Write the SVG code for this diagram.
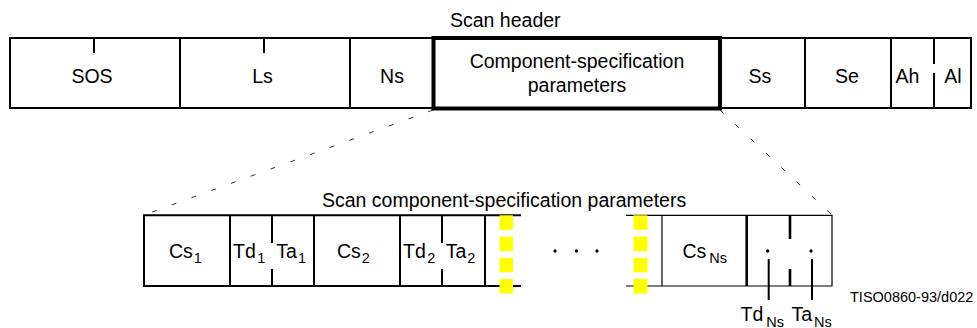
<svg xmlns="http://www.w3.org/2000/svg" width="977" height="328" viewBox="0 0 977 328">
<style>
  text { font-family: "Liberation Sans", Arial, sans-serif; fill: #000; }
  .lbl { font-size: 19.5px; }
  .mid { text-anchor: middle; }
  .sub { font-size: 14.5px; }
  .cell { fill: #fff; stroke: #000; stroke-width: 2; }
  .ln { stroke: #000; stroke-width: 2; fill: none; }
  .thin { stroke: #000; stroke-width: 1.2; fill: none; }
  .thk { stroke: #000; stroke-width: 2.6; fill: none; }
  .zoom { stroke: #333; stroke-width: 1; fill: none; stroke-dasharray: 5 16; }
  .gap { fill: #ffff00; }
</style>
<rect width="977" height="328" fill="#fff"/>

<text id="title-scan-header" class="lbl" x="450" y="27">Scan header</text>

<!-- top row -->
<g id="sos"><rect class="cell" x="10" y="38" width="170" height="70"/><line class="ln" x1="94" y1="38" x2="94" y2="53"/><text class="lbl mid" x="92" y="83">SOS</text></g>
<g id="ls"><rect class="cell" x="180" y="38" width="170" height="70"/><line class="ln" x1="264" y1="38" x2="264" y2="53"/><text class="lbl mid" x="262.5" y="83">Ls</text></g>
<g id="ns"><rect class="cell" x="350" y="38" width="83.5" height="70"/><text class="lbl mid" x="392" y="83">Ns</text></g>
<g id="ss"><rect class="cell" x="720" y="38" width="85" height="70"/><text class="lbl mid" x="760" y="83">Ss</text></g>
<g id="se"><rect class="cell" x="805" y="38" width="86" height="70"/><text class="lbl mid" x="847" y="83">Se</text></g>
<g id="ah"><path class="ln" d="M891,38 H934 M891,108 H934"/><path class="ln" d="M934,38 V64 M934,73 V108"/><text class="lbl mid" x="907.5" y="83">Ah</text></g>
<g id="al"><path class="ln" d="M934,38 H971 V108 H934"/><text class="lbl mid" x="953" y="83">Al</text></g>
<g id="csp"><rect x="433.5" y="38" width="286.5" height="70.5" fill="#fff" stroke="#000" stroke-width="4"/><text class="lbl mid" x="577" y="68">Component-specification</text><text class="lbl mid" x="577" y="91.5">parameters</text></g>

<!-- connectors -->
<g id="connectors">
  <line class="zoom" x1="433" y1="110" x2="144" y2="215"/>
  <line class="zoom" x1="720" y1="110" x2="832" y2="215"/>
  <line class="ln" x1="768.7" y1="259" x2="768.7" y2="300"/>
  <line class="ln" x1="812" y1="259" x2="812" y2="300"/>
</g>

<text id="title-scan-csp" class="lbl" x="322" y="206.5">Scan component-specification parameters</text>

<!-- bottom row -->
<g id="frame-left"><path class="ln" d="M521,215.3 H144 V286 H521"/></g>
<g id="cs1"><path class="ln" d="M230,215.3 V286"/><text class="lbl" x="169" y="258.3">Cs<tspan class="sub" dx="1" dy="5">1</tspan></text></g>
<g id="td1"><path class="ln" d="M272,215.3 V243 M272,269 V286"/><text class="lbl" x="233" y="258.3">Td<tspan class="sub" dx="1.5" dy="5">1</tspan></text></g>
<g id="ta1"><path class="ln" d="M314,215.3 V286"/><text class="lbl" x="276.3" y="258.3">Ta<tspan class="sub" dx="1" dy="5">1</tspan></text></g>
<g id="cs2"><path class="ln" d="M400,215.3 V286"/><text class="lbl" x="337" y="258.3">Cs<tspan class="sub" dx="1" dy="5">2</tspan></text></g>
<g id="td2"><path class="ln" d="M442,215.3 V243 M442,269 V286"/><text class="lbl" x="403" y="258.3">Td<tspan class="sub" dx="1.5" dy="5">2</tspan></text></g>
<g id="ta2"><path class="ln" d="M485,215.3 V286"/><text class="lbl" x="445.7" y="258.3">Ta<tspan class="sub" dx="1" dy="5">2</tspan></text></g>

<g id="ellipsis">
  <circle cx="555" cy="251" r="1.7"/>
  <circle cx="576.5" cy="251" r="1.7"/>
  <circle cx="597" cy="251" r="1.7"/>
</g>

<g id="frame-right"><path class="thin" d="M626,215.3 H832 V286 H626"/><path class="thin" d="M662,215.3 V286"/></g>
<g id="csns"><path class="thk" d="M746.7,215.3 V286"/><text class="lbl" x="682.5" y="258.3">Cs<tspan class="sub" dx="3" dy="5">Ns</tspan></text></g>
<g id="tdns"><path class="thk" d="M790,215.3 V239 M790,269 V286"/><circle cx="767.7" cy="251" r="1.7"/><text class="lbl" x="740.5" y="320.7">Td<tspan class="sub" dx="3" dy="6">Ns</tspan></text></g>
<g id="tans"><circle cx="811" cy="251" r="1.7"/><text class="lbl" x="791.5" y="320.7">Ta<tspan class="sub" dx="2" dy="6">Ns</tspan></text></g>

<g id="gap-marks">
  <rect class="gap" x="499.5" y="215.3" width="13.5" height="14.5"/>
  <rect class="gap" x="499.5" y="236.7" width="13.5" height="14.5"/>
  <rect class="gap" x="499.5" y="257.8" width="13.5" height="14.5"/>
  <rect class="gap" x="499.5" y="279" width="13.5" height="14.5"/>
  <rect class="gap" x="633.5" y="215.3" width="14" height="14.5"/>
  <rect class="gap" x="633.5" y="236.7" width="14" height="14.5"/>
  <rect class="gap" x="633.5" y="257.8" width="14" height="14.5"/>
  <rect class="gap" x="633.5" y="279" width="14" height="14.5"/>
</g>

<text id="fig-id" x="850" y="302.3" font-size="14.5">TISO0860-93/d022</text>
</svg>
